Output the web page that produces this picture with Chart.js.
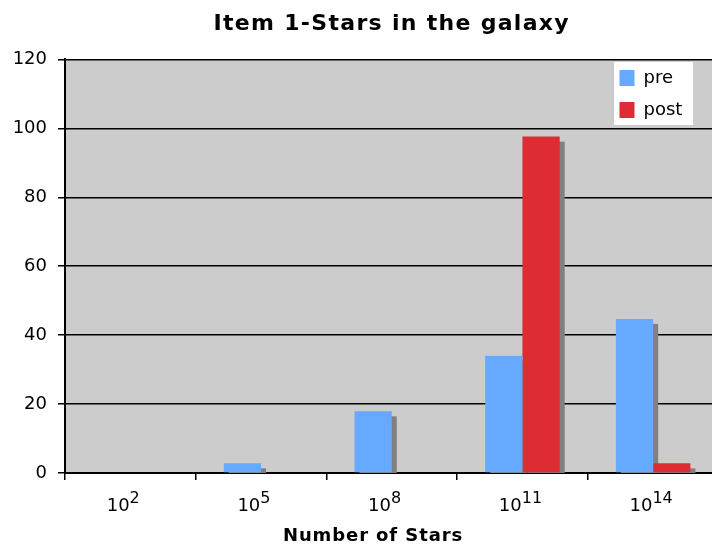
<!DOCTYPE html>
<html>
<head>
<meta charset="utf-8">
<title>Item 1-Stars in the galaxy</title>
<script src="https://cdn.jsdelivr.net/npm/chart.js@4/dist/chart.umd.min.js"></script>
<style>
  html, body { margin: 0; padding: 0; background: #ffffff; overflow: hidden; }
  #wrap { position: relative; width: 746px; height: 545px; }
</style>
</head>
<body>
<div id="wrap"><canvas id="chart"></canvas></div>
<script>
// Survey answers: "How many stars are in the galaxy?" (percent of students)
const categoryBase = '10';
const categoryExponents = [2, 5, 8, 11, 14];
const preValues  = [0, 2.8, 17.9, 34.0, 44.7];
const postValues = [0, 0, 0, 97.6, 2.8];
const seriesNames = ['pre', 'post'];
const yTickValues = [0, 20, 40, 60, 80, 100, 120];

const categories = categoryExponents.map(e => categoryBase + '^' + e);

const FONT = 'DejaVu Sans';
const legendPanel = { x: 614, y: 62, w: 79, h: 63 };
const titleSpacing = { 'Item 1-Stars in the galaxy': '1.3px', 'Number of Stars': '0.9px' };

// Grey plot background and the white legend panel
const plotBackground = {
  id: 'plotBackground',
  beforeDraw(chart) {
    const { ctx, chartArea: a } = chart;
    ctx.save();
    ctx.fillStyle = '#cccccc';
    ctx.fillRect(a.left, a.top, a.right - a.left, a.bottom - a.top);
    ctx.fillStyle = '#ffffff';
    ctx.fillRect(legendPanel.x, legendPanel.y, legendPanel.w, legendPanel.h);
    ctx.restore();
  },
  afterLayout(chart) {
    // place the legend inside the panel in the top right corner of the plot
    const lg = chart.legend;
    const pad = lg.options.labels.padding;
    lg.left = legendPanel.x + 5.5 - pad;
    lg.top = legendPanel.y + 7 - pad;
    // slightly wider tracking for the chart title and the axis title
    chart.boxes.forEach(box => {
      const text = box.options && box.options.text;
      if (typeof text !== 'string' || !titleSpacing[text] || box._spaced) return;
      const draw = box.draw.bind(box);
      box.draw = function (area) {
        chart.ctx.save();
        chart.ctx.letterSpacing = titleSpacing[text];
        draw(area);
        chart.ctx.restore();
      };
      box._spaced = true;
    });
  }
};

// Flat drop shadow behind every bar, drawn before the bars themselves
const barShadow = {
  id: 'barShadow',
  beforeDatasetsDraw(chart) {
    const { ctx, chartArea: a } = chart;
    ctx.save();
    ctx.beginPath();
    ctx.rect(a.left, a.top, a.right - a.left, a.bottom - a.top);
    ctx.clip();
    ctx.fillStyle = '#808080';
    chart.data.datasets.forEach((ds, i) => {
      chart.getDatasetMeta(i).data.forEach(bar => {
        const { x, y, base, width } = bar.getProps(['x', 'y', 'base', 'width'], true);
        const h = base - y;
        if (h <= 0) return;
        ctx.fillRect(x - width / 2 + 5, y + 5, width, h);
      });
    });
    ctx.restore();
  }
};

// Category labels written as powers of ten with a raised exponent;
// every label starts at the same offset from its category centre
const powerLabels = {
  id: 'powerLabels',
  afterDraw(chart) {
    const { ctx } = chart;
    const scale = chart.scales.x;
    const baseY = scale.top + 38;
    ctx.save();
    ctx.fillStyle = '#000000';
    ctx.textAlign = 'left';
    ctx.textBaseline = 'alphabetic';
    ctx.font = `18px "${FONT}"`;
    const wb = ctx.measureText(categoryBase).width;
    ctx.font = `16px "${FONT}"`;
    const wideExp = Math.max(...categoryExponents.map(e => ctx.measureText(String(e)).width));
    categoryExponents.forEach((e, i) => {
      const cx = scale.getPixelForTick(i);
      const start = cx - (wb + wideExp) / 2 - 2;
      ctx.font = `18px "${FONT}"`;
      ctx.fillText(categoryBase, start, baseY);
      ctx.font = `16px "${FONT}"`;
      ctx.fillText(String(e), start + wb, baseY - 8);
    });
    ctx.restore();
  }
};

new Chart(document.getElementById('chart'), {
  type: 'bar',
  data: {
    labels: categories,
    datasets: [
      { label: seriesNames[0], data: preValues, backgroundColor: '#66aaff', clip: 0 },
      { label: seriesNames[1], data: postValues, backgroundColor: '#dd2c33', clip: 0 }
    ]
  },
  options: {
    responsive: true,
    maintainAspectRatio: false,
    animation: false,
    devicePixelRatio: 1,
    layout: { padding: 0 },
    datasets: { bar: { categoryPercentage: 0.57, barPercentage: 1.0, borderWidth: 0 } },
    scales: {
      x: {
        offset: true,
        grid: { offset: true, drawOnChartArea: false, drawTicks: true, tickLength: 7, color: '#000000', lineWidth: 1.5 },
        border: { display: true, color: '#000000', width: 2 },
        ticks: { display: false },
        afterFit(s) { s.height = 54; }
      },
      y: {
        min: 0,
        max: 120,
        afterBuildTicks(s) { s.ticks = yTickValues.map(v => ({ value: v })); },
        grid: { color: '#000000', lineWidth: 1.5, tickLength: 7, drawTicks: true },
        border: { display: true, color: '#000000', width: 2 },
        ticks: { color: '#000000', padding: 11, font: { family: FONT, size: 18 } },
        afterFit(s) { s.width = 65; }
      },
      yRight: {
        type: 'linear',
        position: 'right',
        display: true,
        grid: { display: false },
        border: { display: false },
        ticks: { display: false },
        afterFit(s) { s.width = 27.5; }
      }
    },
    plugins: {
      title: {
        display: true,
        text: 'Item 1-Stars in the galaxy',
        color: '#000000',
        fullSize: false,
        font: { family: FONT, size: 22, weight: 'bold', lineHeight: 1.2 },
        padding: { top: 11, bottom: 22 }
      },
      subtitle: {
        display: true,
        text: 'Number of Stars',
        position: 'bottom',
        color: '#000000',
        fullSize: true,
        font: { family: FONT, size: 18, weight: 'bold', lineHeight: 1 },
        padding: { top: 0, bottom: 0 }
      },
      legend: {
        position: 'chartArea',
        align: 'start',
        labels: {
          color: '#000000',
          boxWidth: 15,
          boxHeight: 16,
          padding: 14,
          font: { family: FONT, size: 18 }
        }
      },
      tooltip: { enabled: false }
    }
  },
  plugins: [plotBackground, barShadow, powerLabels]
});
</script>
</body>
</html>
